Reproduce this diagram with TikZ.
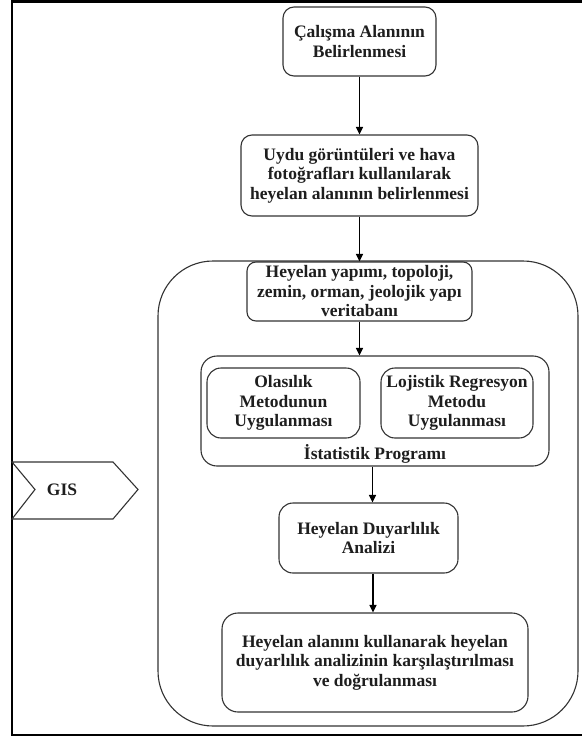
\documentclass[tikz,border=0pt]{standalone}
\usepackage{fontspec}
\setmainfont{Liberation Serif}
\usetikzlibrary{arrows.meta,shapes.geometric}
\definecolor{edgegray}{HTML}{333333}
\definecolor{txt}{HTML}{1E1E1E}
\tikzset{
  box/.style={draw=edgegray, line width=1.1pt, rounded corners=11pt, align=center,
    inner sep=0pt, text=txt, font=\fontsize{17.5}{19.5}\selectfont\bfseries},
  plainlabel/.style={inner sep=0pt, text=txt, font=\fontsize{17.5}{19.5}\selectfont\bfseries},
  arr/.style={draw=black, line width=1.2pt, -{Triangle[length=7.5pt,width=7pt]}},
}
\begin{document}
\begin{tikzpicture}[x=1pt,y=-1pt]
\useasboundingbox (0,0) rectangle (581,738);
\fill[white] (0,0) rectangle (581,738);
% outer frame (right side cropped)
\draw[line width=2.6pt, black] (583,1.4) -- (12,1.4) -- (12,735) -- (583,735);
% big container
\draw[edgegray, line width=1.1pt, rounded corners=55pt] (158,261) rectangle (578,726);
% GIS chevron
\draw[edgegray, line width=1.1pt, line join=miter] (12,462) -- (113,462) -- (138,489.5) -- (113,519) -- (12,519) -- (35,489.5) -- cycle;
\node[plainlabel] (gis) at (62,489.5) {GIS};

\node[box, minimum width=153pt, minimum height=69pt] (b1) at (359.5,41.5)
  {Çalışma Alanının\\Belirlenmesi};
\node[box, minimum width=237pt, minimum height=81pt] (b2) at (359.5,175.5)
  {Uydu görüntüleri ve hava\\fotoğrafları kullanılarak\\heyelan alanının belirlenmesi};
\node[box, fill=white, rounded corners=9pt, minimum width=225pt, minimum height=59pt] (b3) at (359.5,291.5)
  {Heyelan yapımı, topoloji,\\zemin, orman, jeolojik yapı\\veritabanı};

\node[box, rounded corners=16pt, minimum width=348pt, minimum height=110pt] (istat) at (375,411) {};
\node[plainlabel] (istatlbl) at (375,454) {İstatistik Programı};
\node[box, rounded corners=14pt, minimum width=153pt, minimum height=70pt] (olas) at (283.5,403)
  {Olasılık\\Metodunun\\Uygulanması};
\node[box, rounded corners=14pt, minimum width=152pt, minimum height=70pt] (loj) at (457,403)
  {Lojistik Regresyon\\Metodu\\Uygulanması};

\node[box, rounded corners=14pt, minimum width=179pt, minimum height=70pt] (duy) at (368.5,538)
  {Heyelan Duyarlılık\\Analizi};
\node[box, rounded corners=16pt, minimum width=306pt, minimum height=99pt] (last) at (375,662.5)
  {Heyelan alanını kullanarak heyelan\\duyarlılık analizinin karşılaştırılması\\ve doğrulanması};

\draw[arr] (b1) -- (b2);
\draw[arr] (b2) -- (b3);
\draw[arr] (b3.south) -- (b3.south |- istat.north);
\draw[arr] ([xshift=4pt]istat.south -| duy.north) -- ([xshift=4pt]duy.north);
\draw[arr] ([xshift=4.5pt]duy.south) -- ([xshift=4.5pt]duy.south |- last.north);
\end{tikzpicture}
\end{document}
